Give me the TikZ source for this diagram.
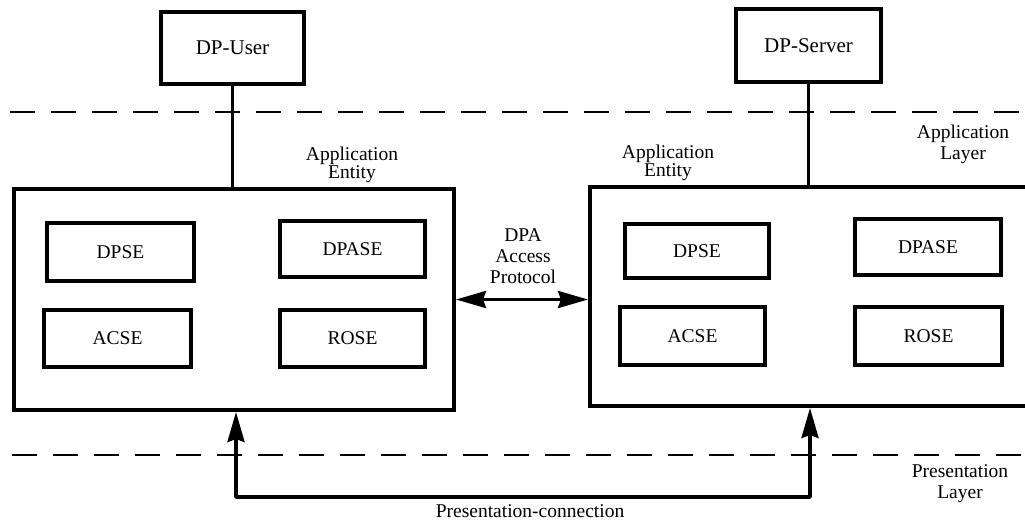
\documentclass[tikz,border=0pt]{standalone}
\usepackage{fontspec}
\setmainfont{Liberation Serif}
\usetikzlibrary{arrows.meta}
\tikzset{
  blk/.style={draw, line width=4pt, minimum width=145pt, minimum height=56pt, inner sep=0pt, font=\fontsize{19.5}{21}\selectfont},
  topblk/.style={blk, font=\fontsize{21}{23}\selectfont},
  ent/.style={draw, line width=4pt, inner sep=0pt},
  lbl/.style={align=center, inner sep=0pt, font=\fontsize{19.5}{21}\selectfont},
  lbltight/.style={align=center, inner sep=0pt, font=\fontsize{19.5}{17}\selectfont},
  layer/.style={line width=1.3pt, dash pattern=on 25pt off 16pt},
  conn/.style={line width=3.5pt},
  bigarrow/.style={conn, line join=round, {Stealth[length=30pt,width=17pt,inset=3pt]}-{Stealth[length=30pt,width=17pt,inset=3pt]}}
}
\begin{document}
\begin{tikzpicture}[x=1pt,y=-1pt]
\useasboundingbox (0,0) rectangle (1025,531);
\fill[white] (0,0) rectangle (1025,531);
% layer boundaries
\coordinate (t1) at (10,112); \coordinate (t2) at (1025,112);
\coordinate (b1) at (12,455); \coordinate (b2) at (1025,455);
\draw[layer] (t1) -- (t2);
\draw[layer] (b1) -- (b2);
% top boxes
\node[topblk, minimum width=143pt, minimum height=72pt] (dpuser) at (232.5,48) {DP-User};
\node[topblk, minimum width=145pt, minimum height=73pt] (dpserver) at (808.5,45.5) {DP-Server};
% application entities
\node[ent, minimum width=440pt, minimum height=221pt] (lae) at (234,299.5) {};
\node[ent, minimum width=450pt, minimum height=219pt] (rae) at (815,296.5) {};
% inner left
\node[blk, minimum width=147pt, minimum height=58pt] (ldpse) at (120.5,252) {DPSE};
\node[blk] (ldpase) at (352.5,249) {DPASE};
\node[blk, minimum width=147pt, minimum height=57pt] (lacse) at (117.5,338.5) {ACSE};
\node[blk, minimum height=57pt] (lrose) at (352.5,338.5) {ROSE};
% inner right
\node[blk, minimum width=144pt, minimum height=54pt] (rdpse) at (697,251) {DPSE};
\node[blk, minimum width=146pt] (rdpase) at (928,247) {DPASE};
\node[blk, minimum height=58pt] (racse) at (692.5,336) {ACSE};
\node[blk, minimum width=147pt, minimum height=58pt] (rrose) at (928.5,336) {ROSE};
% connections to users
\draw[conn] (dpuser.south) -- (dpuser.south |- lae.north);
\draw[conn] (dpserver.south) -- (dpserver.south |- rae.north);
% DPA access protocol
\draw[bigarrow] (lae.east) -- (lae.east -| rae.west);
% presentation connection
\coordinate (pl) at (236,497);
\coordinate (pr) at (810,497);
\draw[bigarrow] (pl |- lae.south) -- (pl) -- (pr) -- (pr |- rae.south);
% labels
\node[lbltight] (lael) at (352,165) {Application\\Entity};
\node[lbltight] (rael) at (668,163) {Application\\Entity};
\node[lbl] (appl) at (963,144) {Application\\Layer};
\node[lbl] (presl) at (960,484) {Presentation\\Layer};
\node[lbl] (dpa) at (523,256) {DPA\\Access\\Protocol};
\node[lbl] (pcon) at (530,511) {Presentation-connection};
\end{tikzpicture}
\end{document}
